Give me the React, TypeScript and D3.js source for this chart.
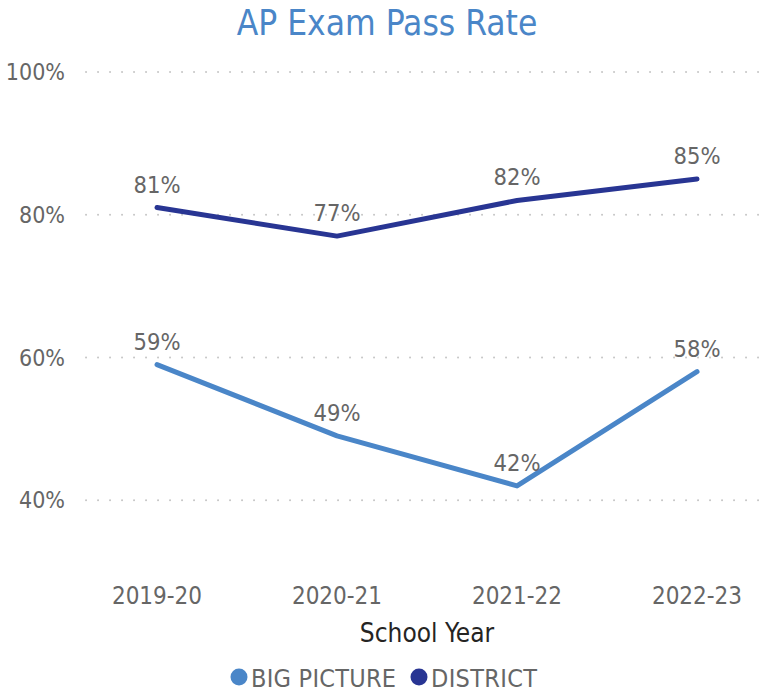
import { useEffect, useRef } from "react";
import * as d3 from "d3";

const years = ["2019-20", "2020-21", "2021-22", "2022-23"];
const bigPicture = [59, 49, 42, 58];
const district = [81, 77, 82, 85];
const yTicks = [40, 60, 80, 100];
const seriesNames = ["BIG PICTURE", "DISTRICT"];
const seriesColors = ["#4A86C8", "#283593"];

const font = "'DejaVu Sans Condensed', 'Roboto', sans-serif";

export default function App() {
  const svgRef = useRef<SVGSVGElement | null>(null);
  const width = 763;
  const height = 693;

  useEffect(() => {
    document.body.style.margin = "0";
    if (!svgRef.current) return;
    const svg = d3.select(svgRef.current);
    svg.selectAll("*").remove();

    const x = d3.scalePoint<string>().domain(years).range([157, 697]);
    const y = d3.scaleLinear().domain([30, 100]).range([571.5, 72]);

    // title
    svg.append("text")
      .attr("x", 387).attr("y", 35)
      .attr("text-anchor", "middle")
      .style("font-family", font)
      .style("font-size", "35px")
      .style("fill", "#4A86C8")
      .text("AP Exam Pass Rate");

    // gridlines
    svg.append("g").selectAll("line")
      .data(yTicks)
      .join("line")
      .attr("x1", 86).attr("x2", 763)
      .attr("y1", (d) => y(d)).attr("y2", (d) => y(d))
      .attr("stroke", "#c8c8c8")
      .attr("stroke-width", 2)
      .attr("stroke-linecap", "round")
      .attr("stroke-dasharray", "0.1 11.9");

    // y labels
    svg.append("g").selectAll("text")
      .data(yTicks)
      .join("text")
      .attr("x", 65).attr("y", (d) => y(d))
      .attr("dy", "0.36em")
      .attr("text-anchor", "end")
      .style("font-family", font)
      .style("font-size", "23px")
      .style("fill", "#666666")
      .text((d) => `${d}%`);

    // x labels
    svg.append("g").selectAll("text")
      .data(years)
      .join("text")
      .attr("x", (d) => x(d)!).attr("y", 604)
      .attr("text-anchor", "middle")
      .style("font-family", font)
      .style("font-size", "24px")
      .style("fill", "#666666")
      .text((d) => d);

    svg.append("text")
      .attr("x", 427).attr("y", 642)
      .attr("text-anchor", "middle")
      .style("font-family", font)
      .style("font-size", "26px")
      .style("fill", "#252423")
      .text("School Year");

    const line = d3.line<number>()
      .x((_, i) => x(years[i])!)
      .y((d) => y(d));

    [bigPicture, district].forEach((vals, s) => {
      svg.append("path")
        .datum(vals)
        .attr("d", line)
        .attr("fill", "none")
        .attr("stroke", seriesColors[s])
        .attr("stroke-width", 5)
        .attr("stroke-linecap", "round")
        .attr("stroke-linejoin", "round");

      svg.append("g").selectAll("text")
        .data(vals)
        .join("text")
        .attr("x", (_, i) => x(years[i])!)
        .attr("y", (d) => y(d) - 15)
        .attr("text-anchor", "middle")
        .style("font-family", font)
        .style("font-size", "23.5px")
        .style("fill", "#666666")
        .text((d) => `${d}%`);
    });

    // legend
    const legendX = [239, 419];
    seriesNames.forEach((name, i) => {
      svg.append("circle")
        .attr("cx", legendX[i]).attr("cy", 677).attr("r", 8.5)
        .attr("fill", seriesColors[i]);
      svg.append("text")
        .attr("x", legendX[i] + 12).attr("y", 678)
        .attr("dy", "0.36em")
        .attr("textLength", i === 0 ? 145 : 106)
        .style("font-family", font)
        .style("font-size", "25px")
        .style("fill", "#666666")
        .text(name);
    });
  }, []);

  return <svg ref={svgRef} width={width} height={height} style={{ display: "block", background: "#fff" }} />;
}
